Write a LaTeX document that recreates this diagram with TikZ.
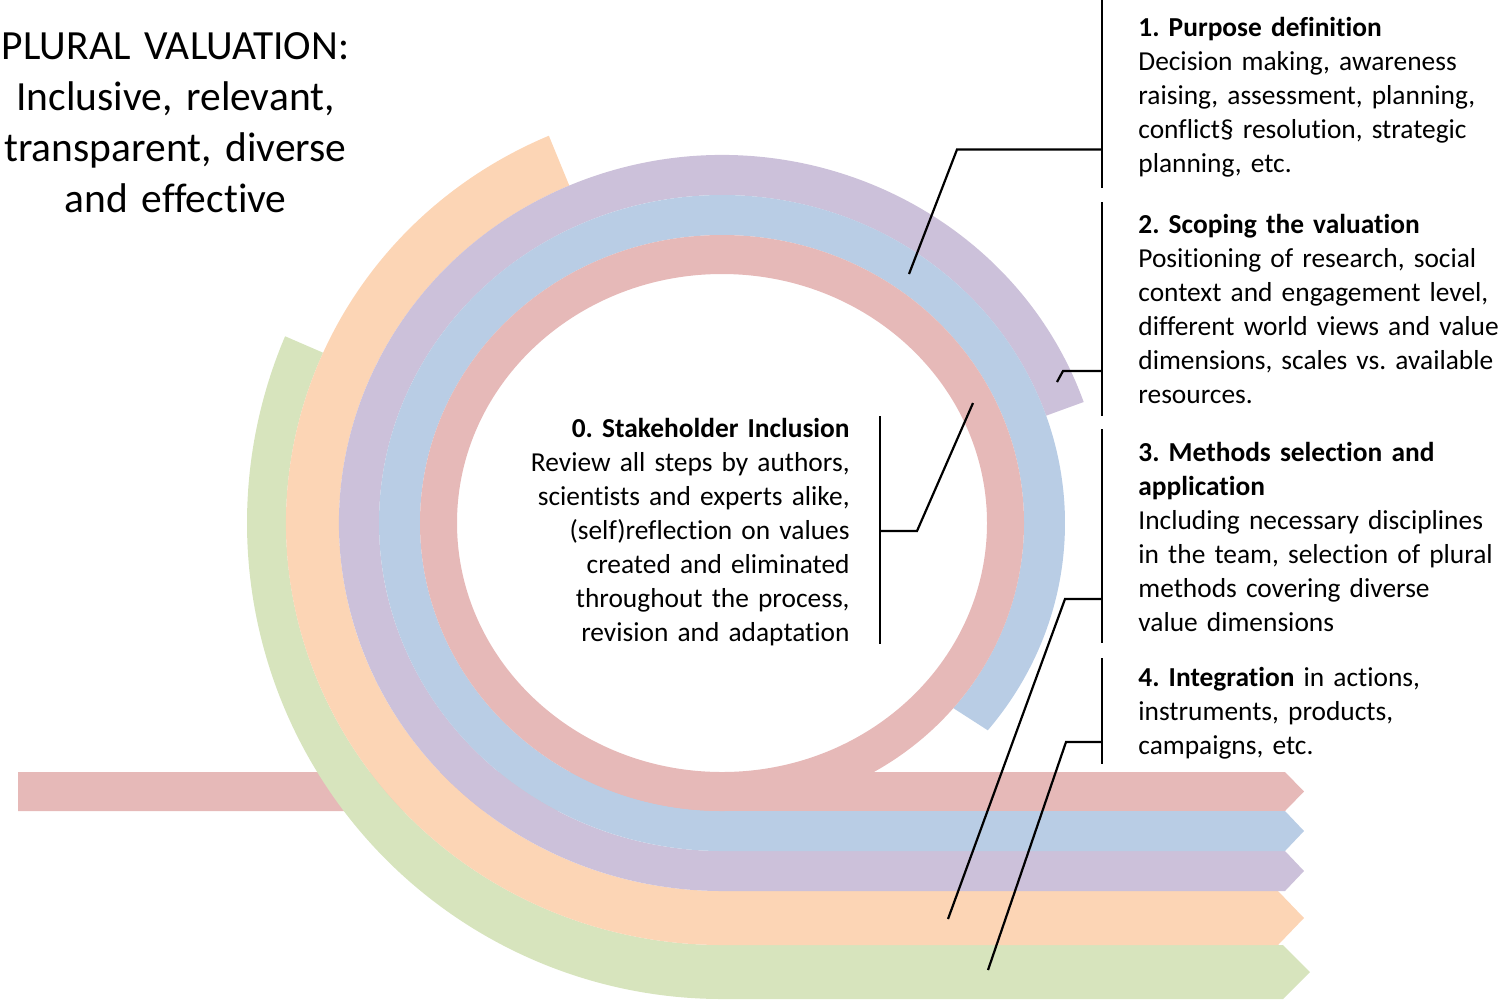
\documentclass[tikz,border=0pt]{standalone}
\usepackage{fontspec}
\setmainfont{Carlito}[Ligatures=NoCommon]
\usetikzlibrary{calc}
\definecolor{pinkc}{HTML}{E6B9B8}
\definecolor{bluec}{HTML}{B9CDE5}
\definecolor{purplec}{HTML}{CCC1DA}
\definecolor{orangec}{HTML}{FCD5B5}
\definecolor{greenc}{HTML}{D7E4BD}
\begin{document}
\frenchspacing
\begin{tikzpicture}[x=0.5pt,y=-0.5pt,
  callout/.style={line width=1.1pt, draw=black},
  txt/.style={inner sep=0pt, font=\fontsize{13.7pt}{17pt}\selectfont},
  titletxt/.style={inner sep=0pt, font=\fontsize{20.75pt}{25.5pt}\selectfont}]
\useasboundingbox (0,0) rectangle (1500,1003);
\coordinate (c) at (722,523);

% pink straight bar (behind everything)
\fill[pinkc] (18,772) -- (1285,772) -- (1304,791.5) -- (1285,811) -- (18,811) -- cycle;

% green band
\fill[greenc] ($(c)+(-156.9:475 and 476)$)
  arc[start angle=-156.9, end angle=-270, x radius=475, y radius=476]
  -- (1283,999) -- (1310,972) -- (1283,945) -- (722,945)
  arc[start angle=-270, end angle=-156.2, x radius=436, y radius=422] -- cycle;

% orange band
\fill[orangec] ($(c)+(-113.4:436 and 422)$)
  arc[start angle=-113.4, end angle=-270, x radius=436, y radius=422]
  -- (1278,945) -- (1304,918) -- (1278,891) -- (722,891)
  arc[start angle=-270, end angle=-113.5, x radius=383, y radius=368] -- cycle;

% purple band
\fill[purplec] ($(c)+(-19.2:383 and 368)$)
  arc[start angle=-19.2, end angle=-270, x radius=383, y radius=368]
  -- (1285,891) -- (1304,871) -- (1285,851) -- (722,851)
  arc[start angle=-270, end angle=-19.1, x radius=343, y radius=328] -- cycle;

% blue band
\fill[bluec] ($(c)+(39.2:343 and 328)$)
  arc[start angle=39.2, end angle=-270, x radius=343, y radius=328]
  -- (1285,851) -- (1304,831) -- (1285,811) -- (722,811)
  arc[start angle=-270, end angle=40, x radius=302, y radius=288] -- cycle;

% pink ring
\fill[pinkc, even odd rule] (c) ellipse [x radius=302, y radius=288]
  (c) ellipse [x radius=265, y radius=249];

% callout coordinates
\coordinate (v1a) at (1102,0);   \coordinate (v1b) at (1102,188);
\coordinate (h1) at (1102,149.5); \coordinate (k1) at (957,149.5); \coordinate (e1) at (909,274);
\coordinate (v2a) at (1102,202); \coordinate (v2b) at (1102,416);
\coordinate (h2) at (1102,371);  \coordinate (k2) at (1063,371);  \coordinate (e2) at (1057,382);
\coordinate (v3a) at (1102,429); \coordinate (v3b) at (1102,643);
\coordinate (h3) at (1102,599);  \coordinate (k3) at (1065,599);  \coordinate (e3) at (948,919);
\coordinate (v4a) at (1102,658); \coordinate (v4b) at (1102,764);
\coordinate (h4) at (1102,742);  \coordinate (k4) at (1066,742);  \coordinate (e4) at (988,970);
\coordinate (v0a) at (880,416);  \coordinate (v0b) at (880,644);
\coordinate (h0) at (880,531);   \coordinate (k0) at (917,531);   \coordinate (e0) at (973,403);

\draw[callout] (v1a) -- (v1b);
\draw[callout] (h1) -- (k1) -- (e1);
\draw[callout] (v2a) -- (v2b);
\draw[callout] (h2) -- (k2) -- (e2);
\draw[callout] (v3a) -- (v3b);
\draw[callout] (h3) -- (k3) -- (e3);
\draw[callout] (v4a) -- (v4b);
\draw[callout] (h4) -- (k4) -- (e4);
\draw[callout] (v0a) -- (v0b);
\draw[callout] (h0) -- (k0) -- (e0);

% texts
\node[titletxt, anchor=base, text width=190pt, align=center] (title) at (175.5,59.5)
  {PLURAL VALUATION:\\Inclusive, relevant,\\transparent, diverse\\and effective};

\node[txt, anchor=base west, text width=200pt, align=left] (s1) at (1138,36)
  {\textbf{1. Purpose definition}\\Decision making, awareness\\raising, assessment, planning,\\conflict§ resolution, strategic\\planning, etc.};
\node[txt, anchor=base west, text width=200pt, align=left] (s2) at (1138,233)
  {\textbf{2. Scoping the valuation}\\Positioning of research, social\\context and engagement level,\\different world views and value\\dimensions, scales vs. available\\resources.};
\node[txt, anchor=base west, text width=200pt, align=left] (s3) at (1138,461)
  {\textbf{3. Methods selection and}\\\textbf{application}\\Including necessary disciplines\\in the team, selection of plural\\methods covering diverse\\value dimensions};
\node[txt, anchor=base west, text width=200pt, align=left] (s4) at (1138,686)
  {\textbf{4. Integration} in actions,\\instruments, products,\\campaigns, etc.};
\node[txt, anchor=base east, text width=170pt, align=right] (s0) at (850,437)
  {\textbf{0. Stakeholder Inclusion}\\Review all steps by authors,\\scientists and experts alike,\\(self)reflection on values\\created and eliminated\\throughout the process,\\revision and adaptation};
\end{tikzpicture}
\end{document}
